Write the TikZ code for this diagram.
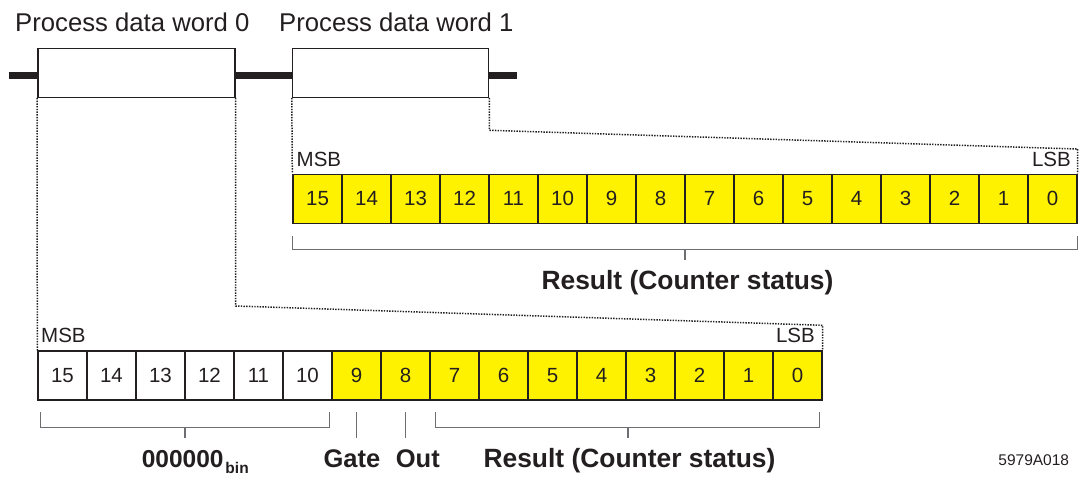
\documentclass[tikz,border=0pt]{standalone}
\usepackage{fontspec}
\setmainfont{Liberation Sans}
\usetikzlibrary{calc}
\definecolor{ink}{HTML}{231F20}
\definecolor{ylw}{HTML}{FFF200}
\definecolor{brk}{HTML}{6D6E71}
\begin{document}
\begin{tikzpicture}[x=1pt,y=-1pt,
  cellbox/.style={draw=ink,line width=1.4pt,minimum width=49pt,minimum height=49pt,inner sep=0pt,font=\fontsize{20.5}{24}\selectfont,text=ink},
  wordbox/.style={draw=ink,line width=1.4pt,fill=white,minimum height=49pt,inner sep=0pt},
  bus/.style={line width=7.5pt,draw=ink},
  mapline/.style={draw=ink,line width=1.5pt,dash pattern=on 1.4pt off 1.3pt},
  bracketline/.style={draw=brk,line width=1.2pt},
  title/.style={font=\fontsize{25.7}{30}\selectfont,text=ink,inner sep=0pt,anchor=base west},
  bitlabel/.style={font=\fontsize{20.5}{24}\selectfont,text=ink,inner sep=0pt},
  fieldlabel/.style={font=\bfseries\fontsize{25.5}{30}\selectfont,text=ink,inner sep=0pt,anchor=base},
  resultlabel/.style={font=\bfseries\fontsize{26.4}{31}\selectfont,text=ink,inner sep=0pt,anchor=base},
]
\useasboundingbox (0,0) rectangle (1079,478);

% bus with the two process data words
\coordinate (busL) at (8.5,75.5);
\coordinate (busR) at (517,75.5);
\node[wordbox,minimum width=197pt] (w0) at (136.3,72.8) {};
\node[wordbox,minimum width=196.2pt] (w1) at (390.6,72.8) {};
\draw[bus] (busL) -- ([yshift=-2.7pt]w0.west);
\draw[bus] ([yshift=-2.7pt]w0.east) -- ([yshift=-2.7pt]w1.west);
\draw[bus] ([yshift=-2.7pt]w1.east) -- (busR);
\node[title] (t0) at (15,32) {Process data word 0};
\node[title] (t1) at (279,32) {Process data word 1};

% upper register (process data word 1)
\foreach \k in {0,...,15}{
  \pgfmathtruncatemacro\b{15-\k}
  \node[cellbox,fill=ylw] (u\b) at (317.5+49*\k,198.75) {\b};
}
% lower register (process data word 0)
\foreach \k in {0,...,5}{
  \pgfmathtruncatemacro\b{15-\k}
  \node[cellbox,fill=white] (l\b) at (62.5+49*\k,375.5) {\b};
}
\foreach \k in {6,...,15}{
  \pgfmathtruncatemacro\b{15-\k}
  \node[cellbox,fill=ylw] (l\b) at (62.5+49*\k,375.5) {\b};
}

\node[bitlabel,anchor=base west] (umsb) at (296.5,166.5) {MSB};
\node[bitlabel,anchor=base east] (ulsb) at (1071,166.5) {LSB};
\node[bitlabel,anchor=base west] (lmsb) at (41,342.5) {MSB};
\node[bitlabel,anchor=base east] (llsb) at (815,342.5) {LSB};

% dotted mapping lines
\draw[mapline] (w0.south west) -- (l15.north west);
\coordinate (k1) at ($(w0.south east)+(0,208)$);
\coordinate (k2) at ($(l0.north east)+(0,-25)$);
\draw[mapline] (w0.south east) -- (k1) -- (k2) -- (l0.north east);
\draw[mapline] (w1.south west) -- (u15.north west);
\coordinate (k3) at ($(w1.south east)+(0,32.3)$);
\coordinate (k4) at ($(u0.north east)+(0,-24.5)$);
\draw[mapline] (w1.south east) -- (k3) -- (k4) -- (u0.north east);

% upper bracket
\draw[bracketline] ($(u15.south west)+(0,12)$) -- ($(u15.south west)+(0,25.5)$) -- ($(u0.south east)+(0,25.5)$) -- ($(u0.south east)+(0,12)$);
\coordinate (ub) at ($(u15.south west)!0.5!(u0.south east)+(0,25.5)$);
\draw[bracketline] (ub) -- ++(0,11);
\node[resultlabel] (ures) at (687.5,290) {Result (Counter status)};

% lower brackets
\draw[bracketline] ($(l15.south west)+(3,11)$) -- ($(l15.south west)+(3,27)$) -- ($(l10.south east)+(-3,27)$) -- ($(l10.south east)+(-3,11)$);
\coordinate (lb1) at ($(l15.south west)!0.5!(l10.south east)+(0,27)$);
\draw[bracketline] (lb1) -- ++(0,10);
\draw[bracketline] ($(l9.south)+(0,11)$) -- ($(l9.south)+(0,37)$);
\draw[bracketline] ($(l8.south)+(0,11)$) -- ($(l8.south)+(0,37)$);
\draw[bracketline] ($(l7.south west)+(6.5,11)$) -- ($(l7.south west)+(6.5,27)$) -- ($(l0.south east)+(-3,27)$) -- ($(l0.south east)+(-3,11)$);
\coordinate (lb2) at ($(l7.south west)!0.5!(l0.south east)+(2,27)$);
\draw[bracketline] (lb2) -- ++(0,10);

\node[font=\bfseries\fontsize{24.5}{29}\selectfont,text=ink,inner sep=0pt,anchor=base] (zeros) at (182.7,467) {000000};
\node[font=\bfseries\fontsize{15.5}{18}\selectfont,text=ink,inner sep=0pt,anchor=base west] (bin) at ($(zeros.base east)+(1.5,6)$) {bin};
\node[fieldlabel,anchor=base west] (gate) at (323.3,467) {Gate};
\node[fieldlabel,anchor=base west] (out) at (395.7,467) {Out};
\node[resultlabel] (lres) at (629.5,467) {Result (Counter status)};

\node[font=\fontsize{15.5}{18}\selectfont,text=ink,inner sep=0pt,anchor=base east] (fig) at (1069.3,465.7) {5979A018};
\end{tikzpicture}
\end{document}
